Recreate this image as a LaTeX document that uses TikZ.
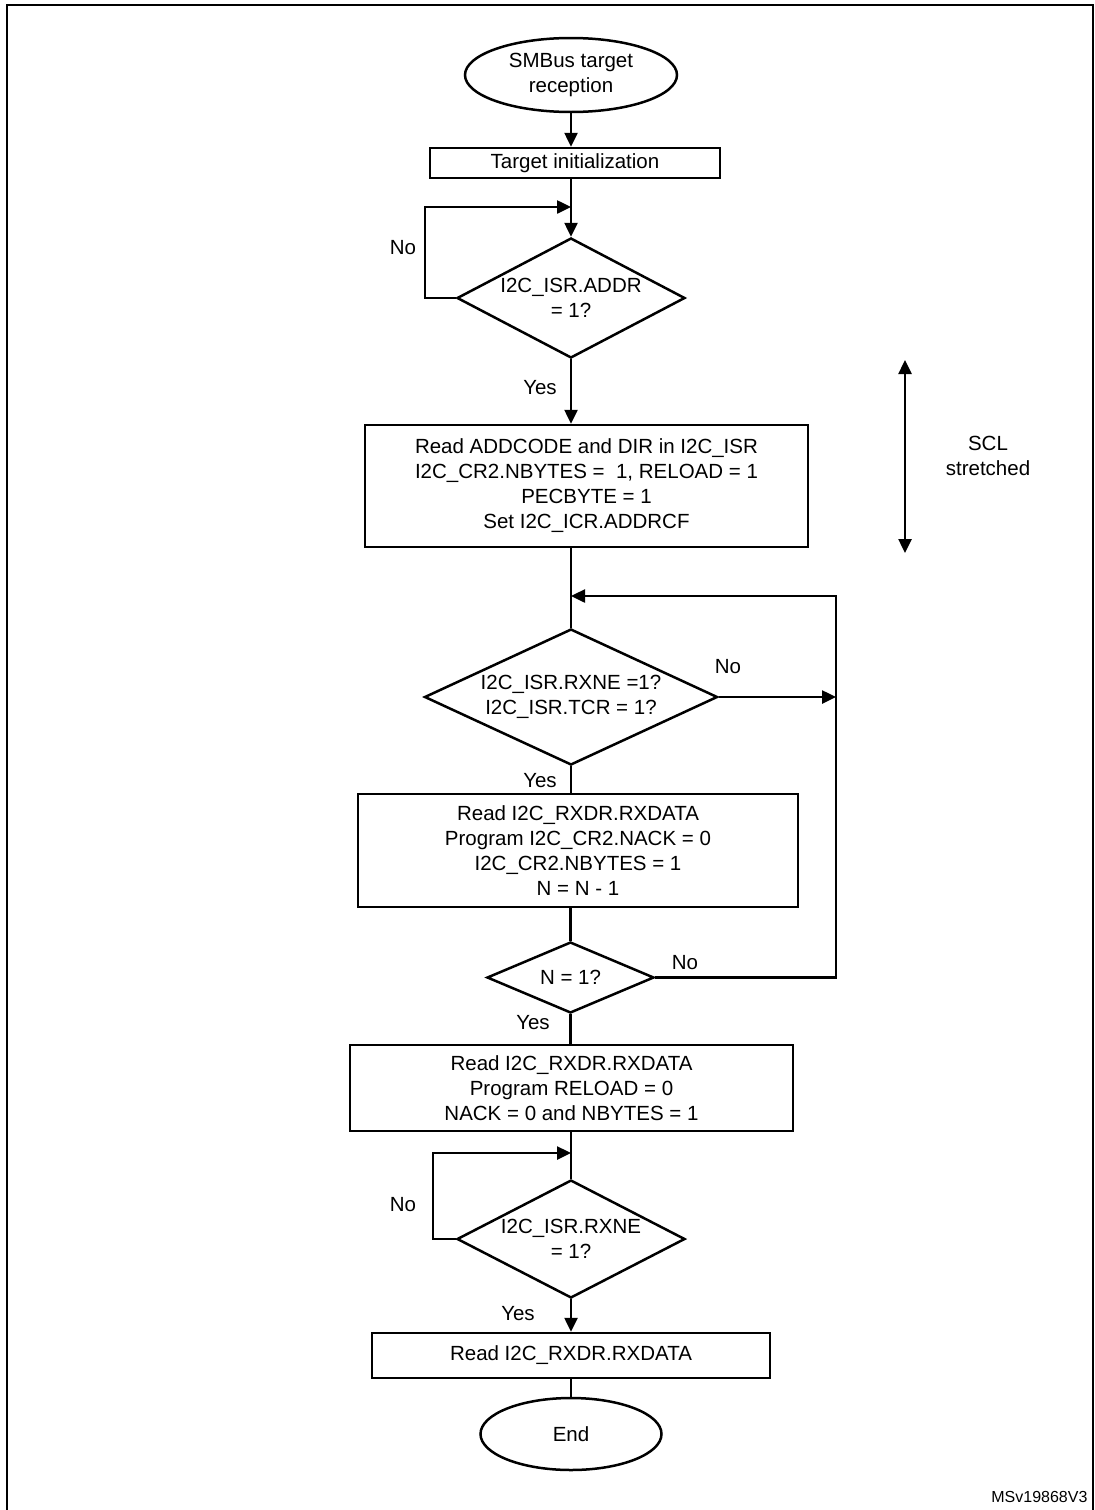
\documentclass[tikz,border=0pt]{standalone}
\usepackage{fontspec}
\setmainfont{Liberation Sans}
\usetikzlibrary{shapes.geometric,arrows.meta}

\begin{document}
\begin{tikzpicture}[x=1pt,y=-1pt,
    every node/.style={font=\fontsize{20.5}{25}\selectfont,align=center},
    term/.style={draw,ellipse,line width=2.5pt,inner sep=0pt},
    proc/.style={draw,rectangle,line width=2.5pt,inner sep=0pt},
    dec/.style={draw,diamond,line width=2.5pt,inner sep=-6pt},
    line/.style={line width=2.5pt},
    arr/.style={line width=2.5pt,-{Triangle[length=14pt,width=13pt]}},
    dblarr/.style={line width=2.5pt,{Triangle[length=14pt,width=13pt]}-{Triangle[length=14pt,width=13pt]}}]
    \useasboundingbox (0,0) rectangle (1095,1510);

    % frame, open at the bottom
    \draw[line width=2pt] (7,1510) -- (7,5) -- (1093,5) -- (1093,1510);

    % flow
    \node[term,minimum width=212pt,minimum height=74pt] (start) at (571,75) {SMBus target\\reception};
    \node[proc,minimum width=290pt,minimum height=30pt] (init) at (575,163) {Target initialization};
    \node[dec,minimum width=228pt,minimum height=120pt,aspect=1.9] (addr) at (571,298) {I2C\_ISR.ADDR\\= 1?};
    \node[proc,minimum width=443pt,minimum height=122pt] (rdaddr) at (586.5,486) {Read ADDCODE and DIR in I2C\_ISR\\I2C\_CR2.NBYTES =\ \ 1, RELOAD = 1\\PECBYTE = 1\\Set I2C\_ICR.ADDRCF};
    \node[dec,minimum width=293pt,minimum height=136pt,aspect=2.15] (rxne) at (571,697) {I2C\_ISR.RXNE =1?\\I2C\_ISR.TCR = 1?};
    \node[proc,minimum width=440pt,minimum height=113pt] (rxd) at (578,850.5) {Read I2C\_RXDR.RXDATA\\Program I2C\_CR2.NACK = 0\\I2C\_CR2.NBYTES = 1\\N = N - 1};
    \node[dec,minimum width=167pt,minimum height=71pt,aspect=2.35] (ncheck) at (570.5,977.5) {N = 1?};
    \node[proc,minimum width=443pt,minimum height=86pt] (rxlast) at (571.5,1088) {Read I2C\_RXDR.RXDATA\\Program RELOAD = 0\\NACK = 0 and NBYTES = 1};
    \node[dec,minimum width=228pt,minimum height=118pt,aspect=1.93] (rxne2) at (571,1239) {I2C\_ISR.RXNE\\= 1?};
    \node[proc,minimum width=398pt,minimum height=45pt] (rxfin) at (571,1355.5) {Read I2C\_RXDR.RXDATA};
    \node[term,minimum width=181pt,minimum height=72pt] (stop) at (571,1434) {End};

    % junctions
    \coordinate (j1) at (571,207);
    \coordinate (j2) at (571,596);
    \coordinate (k) at (836,596);
    \coordinate (j3) at (571,1153);

    % connectors
    \draw[arr] (start.south) -- (start.south |- init.north);
    \draw[arr] (addr.north |- init.south) -- (addr.north);
    \draw[arr] (addr.west) -- ++(-31,0) |- (j1);
    \draw[arr] (addr.south) -- (addr.south |- rdaddr.north);
    \draw[line] (rxne.north |- rdaddr.south) -- (rxne.north);
    \draw[arr] (rxne.east) -- (rxne.east -| k);
    \draw[line] (rxne.south) -- (rxne.south |- rxd.north);
    \draw[line] (ncheck.north |- rxd.south) -- (ncheck.north);
    \draw[arr] (ncheck.east) -| (k) -- (j2);
    \draw[line] (ncheck.south) -- (ncheck.south |- rxlast.north);
    \draw[line] (rxne2.north |- rxlast.south) -- (rxne2.north);
    \draw[arr] (rxne2.west) -- ++(-23,0) |- (j3);
    \draw[arr] (rxne2.south) -- (rxne2.south |- rxfin.north);
    \draw[line] (rxfin.south) -- (stop.north);

    % labels
    \node (no1) at (403,248) {No};
    \node (yes1) at (540,388) {Yes};
    \node (no2) at (728,667) {No};
    \node (yes2) at (540,781) {Yes};
    \node (no3) at (685,963) {No};
    \node (yes3) at (533,1023) {Yes};
    \node (no4) at (403,1205) {No};
    \node (yes4) at (518,1314) {Yes};

    % SCL stretched
    \coordinate (sclt) at (905,360);
    \coordinate (sclb) at (905,553);
    \draw[dblarr] (sclt) -- (sclb);
    \node (scl) at (988,456) {SCL\\stretched};

    \node[font=\fontsize{16}{19}\selectfont,anchor=south east] (ref) at (1091,1506) {MSv19868V3};
\end{tikzpicture}
\end{document}
